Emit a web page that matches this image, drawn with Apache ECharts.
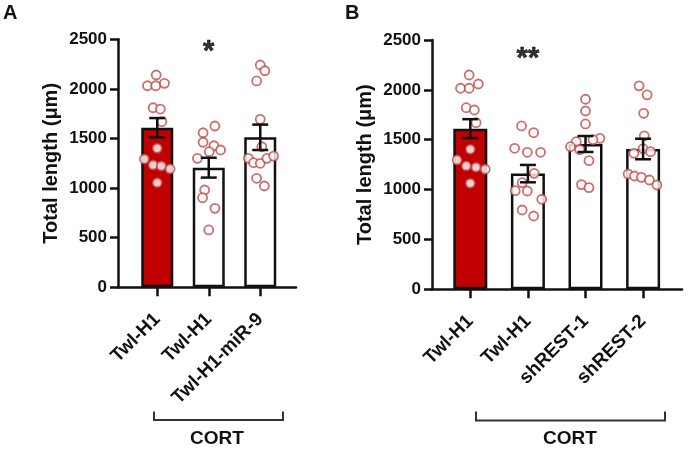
<!DOCTYPE html>
<html>
<head>
<meta charset="utf-8">
<script src="https://cdn.jsdelivr.net/npm/echarts@6/dist/echarts.min.js"></script>
<style>html,body{margin:0;padding:0;background:#fff;}#c{width:688px;height:457px;}</style>
</head>
<body>
<div id="c"></div>
<script>
// ---- data ----
const categoriesA = ['Twl-H1', 'Twl-H1', 'Twl-H1-miR-9'];
const categoriesB = ['Twl-H1', 'Twl-H1', 'shREST-1', 'shREST-2'];
const yTicks = [0, 500, 1000, 1500, 2000, 2500];

const meansA = [1609, 1206, 1512];
const semA = [97, 100, 128];
const meansB = [1611, 1160, 1457, 1407];
const semB = [95, 87, 80, 103];

const pointsA1 = [2140, 2032, 2032, 2056, 1810, 1797, 1670, 1401, 1293, 1233, 1223, 1193, 1054];
const jitterA1 = [-0.02, -0.19, -0.03, 0.14, -0.08, 0.06, 0.09, 0, -0.25, -0.08, 0.08, 0.25, 0];
const pointsA2 = [1626, 1558, 1462, 1427, 1367, 1384, 1300, 981, 903, 796, 578];
const jitterA2 = [0.12, -0.11, -0.11, 0.10, 0.01, 0.23, -0.22, -0.08, -0.12, 0.12, 0.0];
const pointsA3 = [2241, 2183, 2080, 1693, 1417, 1300, 1256, 1250, 1300, 1323, 1099, 1021];
const jitterA3 = [0, 0.09, -0.07, 0, 0.03, -0.23, -0.13, 0, 0.13, 0.26, -0.07, 0.08];

const pointsB1 = [2149, 2016, 2016, 2059, 1821, 1798, 1671, 1404, 1297, 1237, 1224, 1204, 1063];
const jitterB1 = [-0.02, -0.17, -0.02, 0.14, -0.07, 0.07, 0.10, 0, -0.23, -0.07, 0.10, 0.26, 0];
const pointsB2 = [1638, 1571, 1414, 1374, 1374, 1163, 1069, 989, 986, 903, 795, 735];
const jitterB2 = [-0.11, 0.10, -0.23, -0.01, 0.22, 0.11, -0.10, -0.22, -0.01, 0.24, -0.10, 0.10];
const pointsB3 = [1906, 1788, 1658, 1514, 1500, 1480, 1430, 1400, 1290, 1050, 1020];
const jitterB3 = [0, 0, 0, 0.25, 0.13, -0.16, -0.26, -0.10, 0.06, -0.07, 0.06];
const pointsB4 = [2040, 1950, 1765, 1538, 1410, 1364, 1380, 1156, 1136, 1123, 1096, 1046];
const jitterB4 = [-0.07, 0.07, 0.01, 0.02, 0.0, -0.16, 0.13, -0.26, -0.15, -0.03, 0.11, 0.24];

const starsA = [{ cat: 1, y: 2370, text: '*' }];
const starsB = [{ cat: 1, y: 2310, text: '**' }];

// ---- helpers ----
const FONT = "'Liberation Sans', Arial, Helvetica, sans-serif";
const INK = '#111111';
const RED = '#c00000';
const DOT = '#bf4a4a';

function jitterData(groups) {
  const out = [];
  groups.forEach(function (g, gi) {
    g[0].forEach(function (v, k) { out.push([gi + g[1][k], v]); });
  });
  return out;
}
function errData(means, sems) { return means.map(function (m, i) { return [i, m, sems[i]]; }); }
function errRender(params, api) {
  const x = api.value(0), m = api.value(1), s = api.value(2);
  const top = api.coord([x, m + s]);
  const bot = api.coord([x, m - s]);
  const hw = 8;
  const st = { stroke: INK, lineWidth: 2.5 };
  return { type: 'group', children: [
    { type: 'line', shape: { x1: top[0], y1: top[1], x2: bot[0], y2: bot[1] }, style: st },
    { type: 'line', shape: { x1: top[0] - hw, y1: top[1], x2: top[0] + hw, y2: top[1] }, style: st },
    { type: 'line', shape: { x1: bot[0] - hw, y1: bot[1], x2: bot[0] + hw, y2: bot[1] }, style: st }
  ]};
}
function barData(means) {
  return means.map(function (m, i) {
    return { value: m, itemStyle: { color: i === 0 ? RED : '#ffffff' } };
  });
}

const frameX = function (gi) {
  return { gridIndex: gi, type: 'value', min: 0, max: 1, axisLine: { show: true, lineStyle: { color: INK, width: 2.5 } },
    axisTick: { show: false }, axisLabel: { show: false }, splitLine: { show: false } };
};
const frameY = function (gi) {
  return { gridIndex: gi, type: 'value', min: yTicks[0], max: yTicks[yTicks.length - 1], interval: yTicks[1] - yTicks[0],
    axisLine: { show: true, lineStyle: { color: INK, width: 2.5 } },
    axisTick: { show: true, length: 8, lineStyle: { color: INK, width: 2.5 } },
    axisLabel: { color: INK, fontSize: 17, fontWeight: 'bold', fontFamily: FONT, margin: 11,
      formatter: function (v) { return String(v); } },
    splitLine: { show: false },
    name: 'Total length (\u03bcm)', nameLocation: 'middle', nameGap: 57, nameRotate: 90,
    nameTextStyle: { color: INK, fontSize: 20, fontWeight: 'bold', fontFamily: FONT } };
};
const catX = function (gi, cats) {
  return { gridIndex: gi, type: 'category', data: cats, boundaryGap: true,
    axisLine: { show: false }, axisTick: { show: true, alignWithLabel: true, length: 9, lineStyle: { color: INK, width: 2.5 } },
    axisLabel: { rotate: 45, color: INK, fontSize: 19, fontWeight: 'bold', fontFamily: FONT, margin: 29, interval: 0 } };
};
const jitX = function (gi, n) {
  return { gridIndex: gi, type: 'value', min: -0.5, max: n - 0.5, show: false };
};
const hidY = function (gi) {
  return { gridIndex: gi, type: 'value', min: yTicks[0], max: yTicks[yTicks.length - 1], show: false };
};

function starSeries(xi, yi, stars) {
  return { type: 'scatter', xAxisIndex: xi, yAxisIndex: yi, symbolSize: 2, itemStyle: { color: 'rgba(0,0,0,0)' }, z: 6,
    data: stars.map(function (s) { return { value: [s.cat, s.y], label: { formatter: s.text } }; }),
    label: { show: true, position: 'inside', color: '#000000', fontSize: 29, fontWeight: 'bold', fontFamily: FONT,
      textBorderWidth: 0.6, textBorderColor: '#000000' },
    silent: true };
}

const option = {
  animation: false,
  backgroundColor: '#ffffff',
  grid: [
    { left: 118, top: 39.3, width: 178, height: 248 },
    { left: 131.5, top: 39.3, width: 154.5, height: 248 },
    { left: 432, top: 40, width: 250, height: 249.3 },
    { left: 441.5, top: 40, width: 230.4, height: 249.3 }
  ],
  xAxis: [
    frameX(0), catX(1, categoriesA), jitX(1, categoriesA.length),
    frameX(2), catX(3, categoriesB), jitX(3, categoriesB.length)
  ],
  yAxis: [frameY(0), hidY(1), frameY(2), hidY(3)],
  series: [
    { type: 'bar', xAxisIndex: 1, yAxisIndex: 1, barWidth: 32, data: barData(meansA),
      itemStyle: { borderColor: INK, borderWidth: 2.5 }, z: 2 },
    { type: 'scatter', xAxisIndex: 2, yAxisIndex: 1, symbol: 'circle', symbolSize: 9,
      itemStyle: { color: '#ffffff', borderColor: DOT, borderWidth: 1.8 }, z: 3,
      data: jitterData([[pointsA1, jitterA1], [pointsA2, jitterA2], [pointsA3, jitterA3]]) },
    { type: 'custom', xAxisIndex: 1, yAxisIndex: 1, renderItem: errRender, z: 4, data: errData(meansA, semA) },
    starSeries(1, 1, starsA),

    { type: 'bar', xAxisIndex: 4, yAxisIndex: 3, barWidth: 34, data: barData(meansB),
      itemStyle: { borderColor: INK, borderWidth: 2.5 }, z: 2 },
    { type: 'scatter', xAxisIndex: 5, yAxisIndex: 3, symbol: 'circle', symbolSize: 9,
      itemStyle: { color: '#ffffff', borderColor: DOT, borderWidth: 1.8 }, z: 3,
      data: jitterData([[pointsB1, jitterB1], [pointsB2, jitterB2], [pointsB3, jitterB3], [pointsB4, jitterB4]]) },
    { type: 'custom', xAxisIndex: 4, yAxisIndex: 3, renderItem: errRender, z: 4, data: errData(meansB, semB) },
    starSeries(4, 3, starsB)
  ],
  graphic: [
    { type: 'text', left: 3, top: 3, style: { text: 'A', fill: INK, font: 'bold 20px ' + FONT } },
    { type: 'text', left: 345, top: 3, style: { text: 'B', fill: INK, font: 'bold 20px ' + FONT } },
    { type: 'polyline', shape: { points: [[154, 411.5], [154, 420], [283, 420], [283, 411.5]] },
      style: { stroke: '#333', lineWidth: 2, fill: null } },
    { type: 'polyline', shape: { points: [[476, 411.5], [476, 420.5], [665, 420.5], [665, 411.5]] },
      style: { stroke: '#333', lineWidth: 2, fill: null } },
    { type: 'text', x: 217, y: 439, style: { text: 'CORT', fill: INK, font: 'bold 19px ' + FONT, textAlign: 'center', textVerticalAlign: 'middle' } },
    { type: 'text', x: 570, y: 439, style: { text: 'CORT', fill: INK, font: 'bold 19px ' + FONT, textAlign: 'center', textVerticalAlign: 'middle' } }
  ]
};

const chart = echarts.init(document.getElementById('c'), null, { renderer: 'canvas' });
chart.setOption(option);
</script>
</body>
</html>
